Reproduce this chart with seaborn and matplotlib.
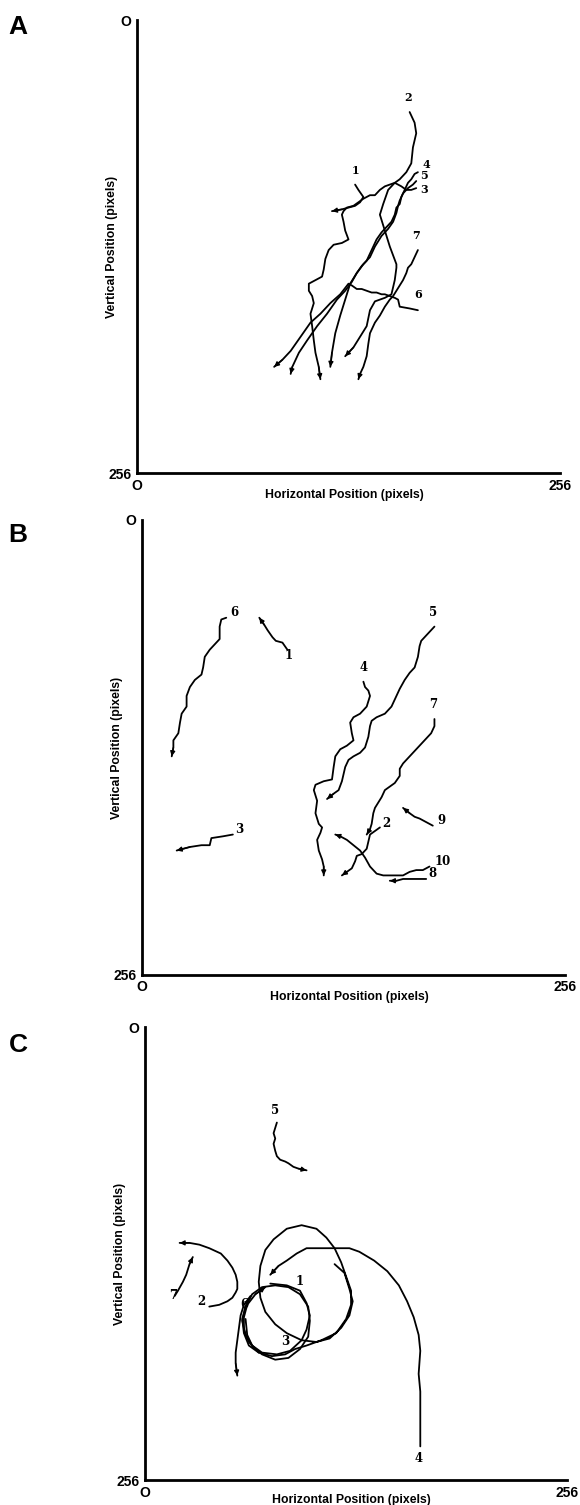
import matplotlib
matplotlib.use("Agg")
import matplotlib.pyplot as plt
import numpy as np
import pandas as pd
import seaborn as sns

# ---------------- data (image-field pixel units, 0..256, y downward) ----------------
# Panel A
A_tracks = {
    "1": [(132,93),(134,96),(137,100),(135,103),(132,105),(128,106),(124,107),(118,108)],
    "2": [(165,52),(168,58),(169,64),(167,72),(166,81),(163,86),(159,90),(156,92),(152,96),(149,104),
          (147,110),(148,113),(150,119),(153,128),(155,133),(157,138),(157,140),(156,147),(154,155),
          (150,157),(144,159),(141,164),(139,173),(135,179),(131,185),(126,190)],
    "3": [(169,95),(166,96),(163,96),(160,94),(156,92),(153,93),(150,94),(147,96),(144,99),(141,99),
          (137,101),(134,103),(131,105),(127,106),(125,108),(124,110),(125,114),(126,119),(128,124),
          (124,126),(119,127),(116,130),(114,135),(113,141),(112,145),(108,147),(104,149),(104,153),
          (106,156),(107,160),(105,166),(106,173),(107,181),(108,188),(110,196),(111,203)],
    "4": [(170,86),(168,87),(166,90),(164,92),(162,96),(160,100),(159,104),(157,106),(156,110),(154,114),
          (151,117),(148,120),(145,124),(142,130),(139,136),(136,139),(133,143),(130,148),(126,153),
          (121,158),(115,166),(109,173),(103,181),(98,188),(94,196),(93,200)],
    "5": [(169,91),(167,93),(164,95),(161,98),(159,102),(158,105),(157,109),(155,114),(152,118),(148,122),
          (144,128),(141,134),(137,138),(133,143),(129,149),(126,158),(123,167),(120,177),(118,188),(117,196)],
    "6": [(170,164),(165,163),(159,162),(158,158),(156,157),(153,156),(150,155),(148,155),(145,154),
          (142,154),(139,153),(136,152),(133,152),(130,150),(128,149),(123,155),(117,160),(111,166),
          (105,171),(99,179),(93,187),(88,192),(83,196)],
    "7": [(170,130),(168,134),(166,138),(164,140),(163,143),(161,147),(159,150),(157,153),(155,156),
          (153,158),(150,162),(147,167),(144,171),(141,177),(140,183),(139,190),(137,196),(135,200),(134,203)],
}
A_labels = {"1": (132,85), "2": (164,44), "4": (175,81.5), "5": (174,88), "3": (174,95.5),
            "7": (169,122), "6": (170,155)}

# Panel B
B_tracks = {
    "1": [(88,73),(85,69),(81,68),(79,66),(76,62),(74,59),(71,55)],
    "2": [(144,173),(141,175),(138,177),(137,181),(136,185),(133,188),(130,189),(129,192),(127,196),(124,198),(121,200)],
    "3": [(55,177),(49,178),(42,179),(41,183),(36,183),(29,184),(21,186)],
    "4": [(134,91),(135,94),(137,96),(138,99),(136,105),(132,109),(128,111),(126,114),(127,120),(128,124),
          (124,127),(120,129),(117,133),(116,139),(115,146),(110,147),(105,149),(104,152),(106,158),
          (105,165),(107,171),(109,173),(108,176),(106,180),(107,186),(109,191),(110,195),(110,200)],
    "5": [(177,60),(173,64),(169,68),(168,71),(167,77),(165,83),(162,86),(159,90),(156,95),(154,99),
          (151,105),(147,109),(142,111),(139,113),(138,116),(137,122),(135,128),(132,131),(128,133),
          (125,135),(123,139),(122,143),(121,147),(119,152),(116,154),(112,157)],
    "6": [(51,55),(48,56),(47,60),(47,67),(44,70),(41,73),(38,77),(37,83),(36,87),(32,90),(29,94),
          (27,99),(27,105),(24,109),(23,114),(22,120),(19,124),(19,128),(18,133)],
    "7": [(177,112),(177,116),(175,120),(172,123),(169,126),(166,129),(162,133),(158,137),(156,140),
          (156,144),(153,148),(150,150),(147,152),(145,156),(143,159),(141,162),(140,165),(139,171),
          (138,174),(136,177)],
    "8": [(172,202),(167,202),(162,202),(158,202),(154,203),(150,203)],
    "9": [(176,172),(172,170),(168,168),(165,167),(162,165),(158,162)],
    "10": [(174,195),(170,197),(166,197),(162,198),(158,200),(152,200),(146,200),(142,199),(138,195),
           (135,190),(132,186),(128,183),(124,180),(120,178),(117,177)],
}
B_labels = {"1": (89,76), "3": (59,174), "6": (56,52), "5": (176,52), "4": (134,83),
            "7": (176,104), "9": (181,169), "2": (148,171), "10": (182,192), "8": (176,199)}

# Panel C
C_tracks = {
    "1": [(115,134),(121,139),(124,148),(126,155),(124,163),(119,170),(112,176),(104,178),(95,177),
          (86,173),(79,168),(73,161),(70,153),(69,144),(70,135),(73,126),(78,120),(86,114),(95,112),
          (104,114),(110,119),(115,125),(119,133),(122,141),(125,149),(125,157),(122,165),(116,173),
          (107,177),(98,180),(91,182),(85,185),(77,186),(69,184),(63,178),(60,171),(60,164),(62,157),
          (67,151),(73,147)],
    "2": [(39,158),(45,157),(50,155),(53,153),(55,150),(56,148),(56,144),(55,140),(53,136),(50,132),
          (46,128),(39,125),(33,123),(27,122),(21,122)],
    "3": [(61,165),(62,174),(65,180),(71,185),(79,188),(87,187),(94,182),(99,175),(100,166),(99,158),
          (94,151),(87,147),(79,146),(71,147),(65,151),(61,158),(59,165),(60,173),(63,180),(69,184)],
    "4": [(167,237),(167,227),(167,217),(167,206),(166,196),(167,183),(166,174),(163,164),(159,155),
          (154,146),(147,138),(139,132),(130,127),(124,125),(112,125),(104,125),(98,125),(92,128),
          (86,132),(81,135),(76,140)],
    "5": [(80,54),(79,57),(78,60),(79,63),(78,66),(79,70),(80,73),(82,75),(85,76),(87,77),(90,79),(93,80),(98,81)],
    "6": [(76,145),(86,146),(94,149),(98,156),(100,163),(98,171),(95,177),(88,183),(80,185),(71,184),
          (65,180),(61,174),(59,166),(61,158),(64,152),(60,157),(58,163),(57,170),(56,177),(55,184),
          (55,190),(56,197)],
    "7": [(18,152),(20,149),(23,144),(25,140),(27,134),(29,130)],
}
C_labels = {"1": (94,144), "3": (85,178), "6": (60,157), "4": (166,244), "5": (79,47),
            "2": (34,155), "7": (17,152)}
C_no_arrow = {"3"}

tick_labels = ["O", "256"]
panel_names = ["A", "B", "C"]

# ---------------- style ----------------
sns.set_style("white")
plt.rcParams["font.family"] = ["Liberation Sans", "DejaVu Sans"]
plt.rcParams["text.color"] = "black"
plt.rcParams["axes.labelcolor"] = "black"
plt.rcParams["xtick.color"] = "black"
plt.rcParams["ytick.color"] = "black"

fig = plt.figure(figsize=(5.8, 15.05), dpi=100)
rects = [[0.2362, 0.6857, 0.7293, 0.3010],
         [0.2448, 0.3522, 0.7293, 0.3023],
         [0.2500, 0.0166, 0.7276, 0.3010]]
letter_y = [1 - 27/1505, 1 - 535/1505, 1 - 1045/1505]
xlabel_y = [-0.036, -0.036, -0.030]
ylabel_x = [-0.045, -0.045, -0.045]

panels = [(A_tracks, A_labels, set()), (B_tracks, B_labels, set()), (C_tracks, C_labels, C_no_arrow)]

for i, (tracks, labels, no_arrow) in enumerate(panels):
    ax = fig.add_axes(rects[i])
    rows = []
    for name, pts in tracks.items():
        for k, (x, y) in enumerate(pts):
            rows.append({"track": name, "order": k, "x": x, "y": y})
    df = pd.DataFrame(rows)
    sns.lineplot(data=df, x="x", y="y", units="track", estimator=None, sort=False,
                 color="black", lw=1.3, ax=ax, legend=False)
    for name, pts in tracks.items():
        if name in no_arrow:
            continue
        ax.annotate("", xy=pts[-1], xytext=pts[-2],
                    arrowprops=dict(arrowstyle="-|>", color="black", lw=1.0,
                                    mutation_scale=7, shrinkA=0, shrinkB=0))
    for name, (x, y) in labels.items():
        ax.text(x, y, name, ha="center", va="center", fontsize=8 if i == 0 else 8.5,
                fontweight="bold", family="DejaVu Serif", color="black")

    ax.set_xlim(0, 256)
    ax.set_ylim(256, 0)
    ax.set_xticks([0, 256])
    ax.set_xticklabels(tick_labels)
    ax.set_yticks([0, 256])
    ax.set_yticklabels(tick_labels)
    ax.tick_params(direction="in", length=4, width=1, labelsize=10, pad=4)
    for lab in ax.get_xticklabels() + ax.get_yticklabels():
        lab.set_fontweight("bold")
    for s in ["top", "right"]:
        ax.spines[s].set_visible(False)
    for s in ["left", "bottom"]:
        ax.spines[s].set_linewidth(2)
        ax.spines[s].set_color("black")
    ax.set_xlabel("Horizontal Position (pixels)", fontsize=8.8, fontweight="bold")
    ax.set_ylabel("Vertical Position (pixels)", fontsize=8.8, fontweight="bold")
    ax.xaxis.set_label_coords(0.49, xlabel_y[i])
    ax.yaxis.set_label_coords(ylabel_x[i], 0.5)
    fig.text(0.031, letter_y[i], panel_names[i], fontsize=19, fontweight="bold",
             ha="center", va="center", color="black")

fig.savefig("out.png", dpi=100, facecolor="white")
